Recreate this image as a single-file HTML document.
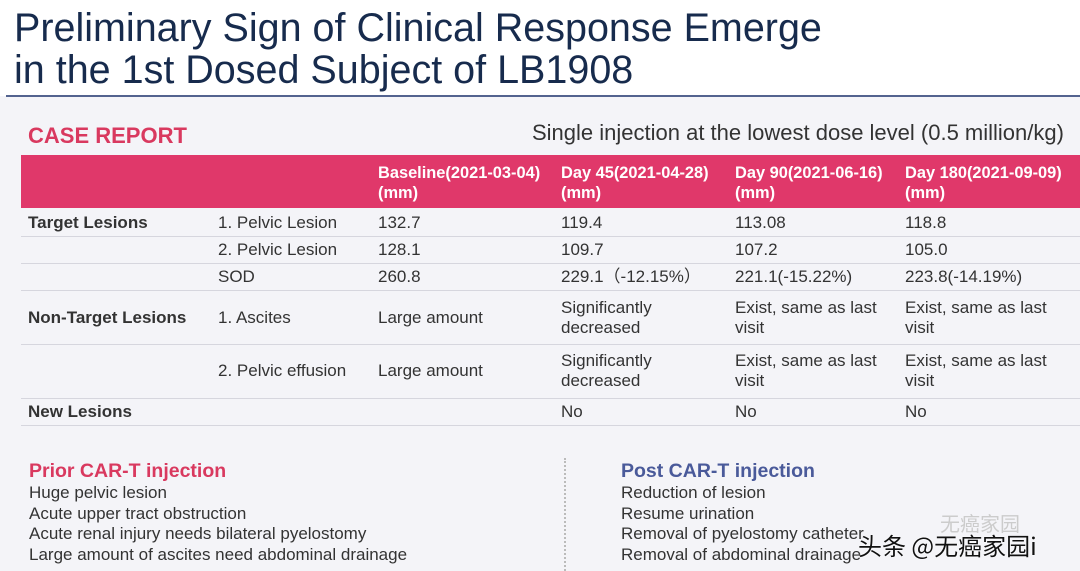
<!DOCTYPE html>
<html><head><meta charset="utf-8"><style>
body{margin:0;width:1080px;height:571px;overflow:hidden;background:#f4f4f8;font-family:"Liberation Sans",Arial,sans-serif;position:relative}
.a{position:absolute;white-space:nowrap}
.t{font-size:39.5px;color:#172b4d;left:14px;line-height:42px}
.c{font-size:17px;color:#333;line-height:20px}
.h{font-size:16.4px;color:#fff;font-weight:bold;line-height:20px}
.b{font-weight:bold}
.l{position:absolute;left:21px;width:1059px;height:1px;background:#d6d6de}
.s{font-size:17px;color:#333;line-height:20.6px}
</style></head><body>
<div class="a" style="left:0;top:0;width:1080px;height:96px;background:#fff"></div>
<div class="a t" style="top:7px">Preliminary Sign of Clinical Response Emerge</div>
<div class="a t" style="top:49px">in the 1st Dosed Subject of LB1908</div>
<div class="a" style="left:6px;top:95px;width:1074px;height:2px;background:#53638f"></div>
<div class="a b" style="left:28px;top:123px;font-size:22px;color:#d9395f">CASE REPORT</div>
<div class="a" style="left:532px;top:120px;font-size:22px;color:#333">Single injection at the lowest dose level (0.5 million/kg)</div>
<div class="a" style="left:21px;top:155px;width:1059px;height:53px;background:#e0386a"></div>
<div class="a h" style="left:378px;top:163px">Baseline(2021-03-04)<br>(mm)</div>
<div class="a h" style="left:561px;top:163px">Day 45(2021-04-28)<br>(mm)</div>
<div class="a h" style="left:735px;top:163px">Day 90(2021-06-16)<br>(mm)</div>
<div class="a h" style="left:905px;top:163px">Day 180(2021-09-09)<br>(mm)</div>
<div class="l" style="top:236px"></div><div class="l" style="top:263px"></div><div class="l" style="top:290px"></div><div class="l" style="top:344px"></div><div class="l" style="top:398px"></div><div class="l" style="top:425px"></div>
<div class="a c b" style="left:28px;top:213px">Target Lesions</div>
<div class="a c" style="left:218px;top:213px">1. Pelvic Lesion</div><div class="a c" style="left:378px;top:213px">132.7</div><div class="a c" style="left:561px;top:213px">119.4</div><div class="a c" style="left:735px;top:213px">113.08</div><div class="a c" style="left:905px;top:213px">118.8</div>
<div class="a c" style="left:218px;top:240px">2. Pelvic Lesion</div><div class="a c" style="left:378px;top:240px">128.1</div><div class="a c" style="left:561px;top:240px">109.7</div><div class="a c" style="left:735px;top:240px">107.2</div><div class="a c" style="left:905px;top:240px">105.0</div>
<div class="a c" style="left:218px;top:267px">SOD</div><div class="a c" style="left:378px;top:267px">260.8</div><div class="a c" style="left:561px;top:267px">229.1（-12.15%）</div><div class="a c" style="left:735px;top:267px">221.1(-15.22%)</div><div class="a c" style="left:905px;top:267px">223.8(-14.19%)</div>
<div class="a c b" style="left:28px;top:308px">Non-Target Lesions</div>
<div class="a c" style="left:218px;top:308px">1. Ascites</div><div class="a c" style="left:378px;top:308px">Large amount</div>
<div class="a c" style="left:561px;top:298px">Significantly<br>decreased</div><div class="a c" style="left:735px;top:298px">Exist, same as last<br>visit</div><div class="a c" style="left:905px;top:298px">Exist, same as last<br>visit</div>
<div class="a c" style="left:218px;top:361px">2. Pelvic effusion</div><div class="a c" style="left:378px;top:361px">Large amount</div>
<div class="a c" style="left:561px;top:351px">Significantly<br>decreased</div><div class="a c" style="left:735px;top:351px">Exist, same as last<br>visit</div><div class="a c" style="left:905px;top:351px">Exist, same as last<br>visit</div>
<div class="a c b" style="left:28px;top:402px">New Lesions</div>
<div class="a c" style="left:561px;top:402px">No</div><div class="a c" style="left:735px;top:402px">No</div><div class="a c" style="left:905px;top:402px">No</div>
<div class="a b" style="left:29px;top:460px;font-size:19.5px;color:#d9395f">Prior CAR-T injection</div>
<div class="a s" style="left:29px;top:483px">Huge pelvic lesion<br>Acute upper tract obstruction<br>Acute renal injury needs bilateral pyelostomy<br>Large amount of ascites need abdominal drainage</div>
<div class="a" style="left:564px;top:458px;height:113px;border-left:2px dotted #bbb"></div>
<div class="a b" style="left:621px;top:460px;font-size:19.5px;color:#4a5a9a">Post CAR-T injection</div>
<div class="a s" style="left:621px;top:483px">Reduction of lesion<br>Resume urination<br>Removal of pyelostomy catheter<br>Removal of abdominal drainage</div>
<div class="a" style="left:940px;top:508px;font-size:20px;color:#ccc;font-family:'Noto Sans CJK SC',sans-serif">无癌家园</div>
<div class="a" style="left:858px;top:527px;font-size:24px;color:#111;font-family:'Noto Sans CJK SC',sans-serif;text-shadow:0 0 2px #fff">头条 @无癌家园i</div>
</body></html>
